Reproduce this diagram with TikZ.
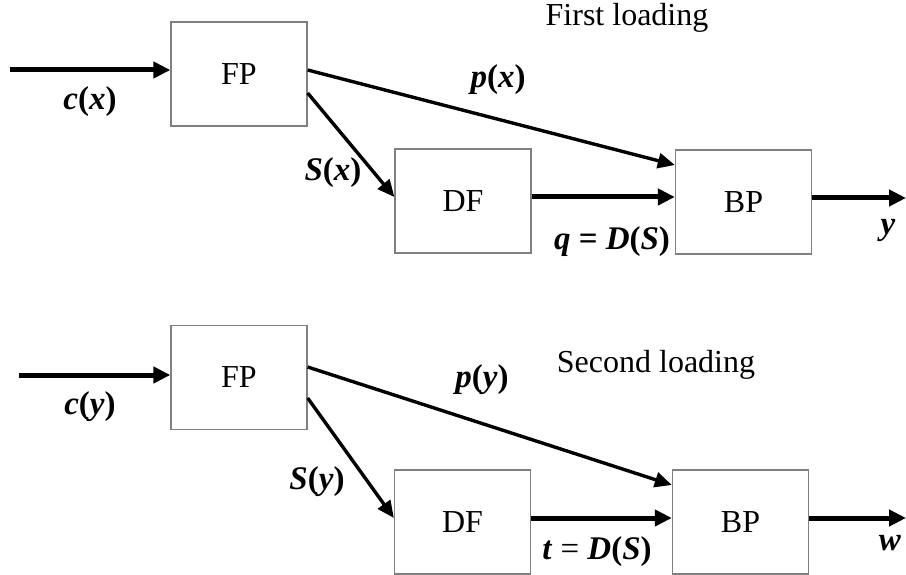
\documentclass[tikz,border=0pt]{standalone}
\usepackage{fontspec}
\setmainfont{Liberation Serif}
\usetikzlibrary{arrows.meta}
\newcommand{\bi}[1]{\textbf{\textit{#1}}}
\begin{document}
\begin{tikzpicture}[x=1pt,y=-1pt,
  every node/.style={font=\fontsize{32}{38}\selectfont},
  blk/.style={draw=black!50,line width=1.3pt,minimum width=136pt,minimum height=104pt,inner sep=0pt},
  lbl/.style={inner sep=0pt,font=\fontsize{33}{39}\selectfont},
  harr/.style={line width=5pt,-{Triangle[length=17pt,width=16pt]}},
  darr/.style={line width=3.4pt,-{Triangle[length=17pt,width=15pt]}}]
\useasboundingbox (0,0) rectangle (906,575);
% top row
\node[blk] (FP1) at (239,74) {FP};
\node[blk] (DF1) at (463,201) {DF};
\node[blk] (BP1) at (743.5,202) {BP};
\coordinate (in1) at (10,70);
\coordinate (out1) at (906,198);
\draw[harr] (in1) -- ([yshift=4pt]FP1.west);
\draw[darr] ([yshift=4pt]FP1.east) -- ([yshift=37pt]BP1.west);
\draw[darr] ([yshift=-19pt]FP1.east) -- ([yshift=4pt]DF1.west);
\draw[harr] ([yshift=4pt]DF1.east) -- ([yshift=5pt]BP1.west);
\draw[harr] ([yshift=4pt]BP1.east) -- (out1);
\node[lbl] (lc1) at (90,102) {\bi{c}\textbf{(}\bi{x}\textbf{)}};
\node[lbl] (lp1) at (498,80) {\bi{p}\textbf{(}\bi{x}\textbf{)}};
\node[lbl] (ls1) at (333,173) {\bi{S}\textbf{(}\bi{x}\textbf{)}};
\node[lbl] (lq1) at (612,242) {\bi{q} \textbf{=} \bi{D}\textbf{(}\bi{S}\textbf{)}};
\node[lbl] (ly1) at (888,230) {\bi{y}};
\node (t1) at (627,18) {First loading};
% bottom row
\node[blk] (FP2) at (239,377.5) {FP};
\node[blk] (DF2) at (462.5,522) {DF};
\node[blk] (BP2) at (740.5,522) {BP};
\coordinate (in2) at (19,375);
\coordinate (out2) at (906,518);
\draw[harr] (in2) -- ([yshift=2.5pt]FP2.west);
\draw[darr] ([yshift=10.5pt]FP2.east) -- ([yshift=37pt]BP2.west);
\draw[darr] ([yshift=-20.5pt]FP2.east) -- ([yshift=4pt]DF2.west);
\draw[harr] ([yshift=4pt]DF2.east) -- ([yshift=4pt]BP2.west);
\draw[harr] ([yshift=4pt]BP2.east) -- (out2);
\node[lbl] (lc2) at (90,407) {\bi{c}\textbf{(}\bi{y}\textbf{)}};
\node[lbl] (lp2) at (482,380) {\bi{p}\textbf{(}\bi{y}\textbf{)}};
\node[lbl] (ls2) at (317,482) {\bi{S}\textbf{(}\bi{y}\textbf{)}};
\node[lbl] (lt2) at (597,552) {\bi{t} = \bi{D}\textbf{(}\bi{S}\textbf{)}};
\node[lbl] (lw2) at (890,543) {\bi{w}};
\node (t2) at (656,365) {Second loading};
\end{tikzpicture}
\end{document}
